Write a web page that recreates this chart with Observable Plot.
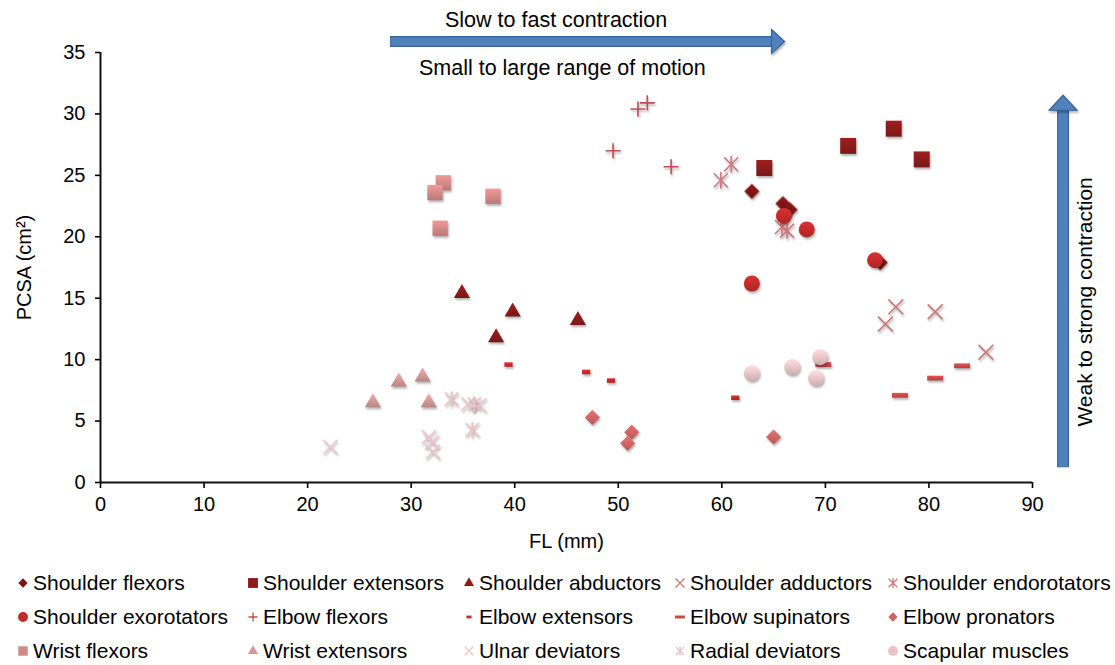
<!DOCTYPE html>
<html><head><meta charset="utf-8">
<script src="https://cdn.jsdelivr.net/npm/d3@7"></script>
<script src="https://cdn.jsdelivr.net/npm/@observablehq/plot@0.6"></script>
<style>
body{margin:0;background:#fff;font-family:"Liberation Sans",Arial,Helvetica,sans-serif;}
#chart{position:relative;width:1115px;height:665px;overflow:hidden;}
#chart svg g[aria-label="dot"]{filter:drop-shadow(1px 2px 1.3px rgba(0,0,0,0.3));}
.legend{position:relative;width:1115px;height:105px;}
.item{position:absolute;font-size:21px;line-height:24px;color:#000;white-space:nowrap;display:flex;align-items:center;}
.item svg{margin-right:3px;overflow:visible;}
</style></head><body><div id="chart"></div>
<script>
// ---- data (FL mm, PCSA cm²) ----
const seriesNames = ["Shoulder flexors","Shoulder extensors","Shoulder abductors","Shoulder adductors","Shoulder endorotators",
  "Shoulder exorotators","Elbow flexors","Elbow extensors","Elbow supinators","Elbow pronators",
  "Wrist flexors","Wrist extensors","Ulnar deviators","Radial deviators","Scapular muscles"];
const shoulderFlexors = [[62.9,23.7],[65.9,22.7],[66.6,22.2],[75.3,17.9]];
const shoulderExtensors = [[64.1,25.6],[72.2,27.4],[76.6,28.8],[79.3,26.3]];
const shoulderAbductors = [[34.9,15.4],[39.8,13.9],[38.2,11.8],[46.1,13.2]];
const shoulderAdductors = [[76.8,14.3],[75.8,12.9],[80.6,13.9],[85.5,10.6]];
const shoulderEndorotators = [[60.9,25.9],[59.9,24.6],[65.8,20.8],[66.3,20.5]];
const shoulderExorotators = [[66.0,21.7],[68.2,20.6],[74.8,18.1],[62.9,16.2]];
const elbowFlexors = [[51.9,30.4],[52.8,30.9],[49.5,27.0],[55.1,25.7]];
const elbowExtensors = [[39.4,9.6],[46.9,9.0],[49.3,8.3],[61.3,6.9]];
const elbowSupinators = [[69.8,9.6],[77.2,7.1],[80.6,8.5],[83.2,9.5]];
const elbowPronators = [[47.5,5.3],[51.3,4.1],[50.9,3.2],[65.0,3.7]];
const wristFlexors = [[33.1,24.4],[32.3,23.6],[37.9,23.3],[32.8,20.7]];
const wristExtensors = [[26.3,6.5],[28.8,8.2],[31.1,8.6],[31.7,6.5]];
const ulnarDeviators = [[22.2,2.9],[31.7,3.7],[32.0,3.3],[32.1,2.5],[35.5,6.4],[36.6,6.3]];
const radialDeviators = [[33.9,6.8],[36.1,6.4],[35.9,4.3]];
const scapularMuscles = [[62.9,8.9],[66.8,9.4],[69.5,10.2],[69.1,8.5]];
const seriesValues = [shoulderFlexors,shoulderExtensors,shoulderAbductors,shoulderAdductors,shoulderEndorotators,
  shoulderExorotators,elbowFlexors,elbowExtensors,elbowSupinators,elbowPronators,
  wristFlexors,wristExtensors,ulnarDeviators,radialDeviators,scapularMuscles];
const xTicks = [0,10,20,30,40,50,60,70,80,90];
const yTicks = [0,5,10,15,20,25,30,35];
const xLabel = "FL (mm)";
const yLabel = "PCSA (cm²)";
const hArrowText = ["Slow to fast contraction","Small to large range of motion"];
const vArrowText = "Weak to strong contraction";

// ---- styles ----
const smallDash = {draw(ctx, size){const s=Math.sqrt(size); const w=s*0.55, h=s*0.3; ctx.rect(-w/2,-h/2,w,h);}};
const longDash = {draw(ctx, size){const s=Math.sqrt(size); const w=s*1.0, h=s*0.3; ctx.rect(-w/2,-h/2,w,h);}};
const zhe = {draw(ctx, size){const r=Math.sqrt(size)*0.58, a=r*0.85;
  ctx.moveTo(0,-r);ctx.lineTo(0,r);ctx.moveTo(-a,-a);ctx.lineTo(a,a);ctx.moveTo(-a,a);ctx.lineTo(a,-a);}};
const headRight = {draw(ctx){ctx.moveTo(0,-12);ctx.lineTo(13,0);ctx.lineTo(0,12);ctx.closePath();}};
const headUp = {draw(ctx){ctx.moveTo(-14,0);ctx.lineTo(0,-15);ctx.lineTo(14,0);ctx.closePath();}};
const styles = [
  {symbol:"diamond2", d3s:d3.symbolDiamond2, color:"#7c1616", filled:true, r:6.8},
  {symbol:"square", d3s:d3.symbolSquare, color:"#8a1b1b", filled:true, r:9},
  {symbol:"triangle", d3s:d3.symbolTriangle, color:"#8a1a1a", filled:true, r:6},
  {symbol:"times", d3s:d3.symbolTimes, color:"#c97a7a", filled:false, r:6.8},
  {symbol:zhe, d3s:zhe, color:"#cc7a80", filled:false, r:8},
  {symbol:"circle", d3s:d3.symbolCircle, color:"#c42a2a", filled:true, r:8},
  {symbol:"plus", d3s:d3.symbolPlus, color:"#c44e4e", filled:false, r:4.9},
  {symbol:smallDash, d3s:smallDash, color:"#c82a2a", filled:true, r:8.5},
  {symbol:longDash, d3s:longDash, color:"#c94848", filled:true, r:9},
  {symbol:"diamond2", d3s:d3.symbolDiamond2, color:"#cf6464", filled:true, r:6.8},
  {symbol:"square", d3s:d3.symbolSquare, color:"#d48888", filled:true, r:8.6},
  {symbol:"triangle", d3s:d3.symbolTriangle, color:"#d49898", filled:true, r:6},
  {symbol:"times", d3s:d3.symbolTimes, color:"#eec6ca", filled:false, r:6.3},
  {symbol:zhe, d3s:zhe, color:"#e9c2c6", filled:false, r:7.6},
  {symbol:"circle", d3s:d3.symbolCircle, color:"#e6c4c7", filled:true, r:8}
];
const gradId = i => `g${i}`;

const dotMarks = seriesValues.map((vals, i) => {
  const st = styles[i];
  const rows = vals.map(([fl, pcsa]) => ({fl, pcsa, series: seriesNames[i]}));
  return Plot.dot(rows, {x:"fl", y:"pcsa", symbol: st.symbol, r: st.r,
    fill: st.filled ? `url(#${gradId(i)})` : "none", stroke: st.filled ? "none" : st.color,
    strokeWidth: st.filled ? 0 : 1.6});
});

// annotation anchors (data units)
const hArrow = [{x1:28.0, x2:64.8, y:35.9}];
const vArrow = [{x:92.95, y1:1.2, y2:30.3}];
const annotations = [
  {x:44.0, y:37.6, text:hArrowText[0], rotate:0, size:21.5},
  {x:44.6, y:33.7, text:hArrowText[1], rotate:0, size:21.5},
  {x:95.1, y:14.7, text:vArrowText, rotate:-90, size:21}
];
const arrowFill = "#4f81bd", arrowEdge = "#3a659c";

const plot = Plot.plot({
  width:1115, height:560,
  marginLeft:100, marginRight:83, marginTop:52, marginBottom:78,
  style:"font-family:'Liberation Sans',Arial,Helvetica,sans-serif;font-size:20px;color:#000;background:#fff;overflow:visible;",
  x:{domain:[0,90]},
  y:{domain:[0,35]},
  marks:[
    Plot.axisX({ticks:xTicks, tickSize:6, tickPadding:8, strokeWidth:1.6, label:xLabel, labelAnchor:"center", labelOffset:65, labelArrow:"none"}),
    Plot.axisY({ticks:yTicks, tickSize:5, tickPadding:10, strokeWidth:1.6, label:yLabel, labelAnchor:"center", labelOffset:84, labelArrow:"none"}),
    Plot.ruleY([0], {stroke:"#111", strokeWidth:2}),
    Plot.ruleX([0], {stroke:"#111", strokeWidth:2}),
    ...dotMarks,
    Plot.ruleY(hArrow, {y:"y", x1:"x1", x2:"x2", stroke:arrowEdge, strokeWidth:11}),
    Plot.ruleY(hArrow, {y:"y", x1:"x1", x2:"x2", stroke:arrowFill, strokeWidth:8.5, dx:0.5}),
    Plot.dot(hArrow, {x:"x2", y:"y", symbol:headRight, fill:arrowFill, stroke:arrowEdge, strokeWidth:1.2}),
    Plot.ruleX(vArrow, {x:"x", y1:"y1", y2:"y2", stroke:arrowEdge, strokeWidth:12}),
    Plot.ruleX(vArrow, {x:"x", y1:"y1", y2:"y2", stroke:arrowFill, strokeWidth:9.5, dy:-0.5}),
    Plot.dot(vArrow, {x:"x", y:"y2", symbol:headUp, fill:arrowFill, stroke:arrowEdge, strokeWidth:1.2}),
    Plot.text(annotations, {x:"x", y:"y", text:"text", rotate:"rotate", fontSize:"size", fill:"#000"})
  ]
});
// gradients for filled markers (glossy look)
const defs = d3.select(plot).insert("defs", ":first-child");
styles.forEach((st, i) => {
  if (!st.filled) return;
  const c = d3.color(st.color);
  const g = defs.append("linearGradient").attr("id", gradId(i)).attr("x1",0).attr("y1",0).attr("x2",0).attr("y2",1);
  g.append("stop").attr("offset","0%").attr("stop-color", c.brighter(0.35).formatHex());
  g.append("stop").attr("offset","55%").attr("stop-color", c.formatHex());
  g.append("stop").attr("offset","100%").attr("stop-color", c.darker(0.35).formatHex());
});
const chart = document.getElementById("chart");
chart.appendChild(plot);

// ---- legend ----
const markerX = [23,253,469,680,893];
const rowY = [23,57,91];
const legend = document.createElement("div");
legend.className = "legend";
seriesNames.forEach((name, i) => {
  const st = styles[i];
  const col = i % 5, row = Math.floor(i / 5);
  const item = document.createElement("div");
  item.className = "item";
  item.style.left = (markerX[col] - 7) + "px";
  item.style.top = (rowY[row] - 12) + "px";
  const rl = st.r * 0.62;
  const path = d3.symbol(st.d3s, Math.PI * rl * rl)();
  item.innerHTML = `<svg width="14" height="14" viewBox="-7 -7 14 14"><path d="${path}" fill="${st.filled ? st.color : "none"}" stroke="${st.filled ? "none" : st.color}" stroke-width="1.3"/></svg><span>${name}</span>`;
  legend.appendChild(item);
});
chart.appendChild(legend);
</script></body></html>
